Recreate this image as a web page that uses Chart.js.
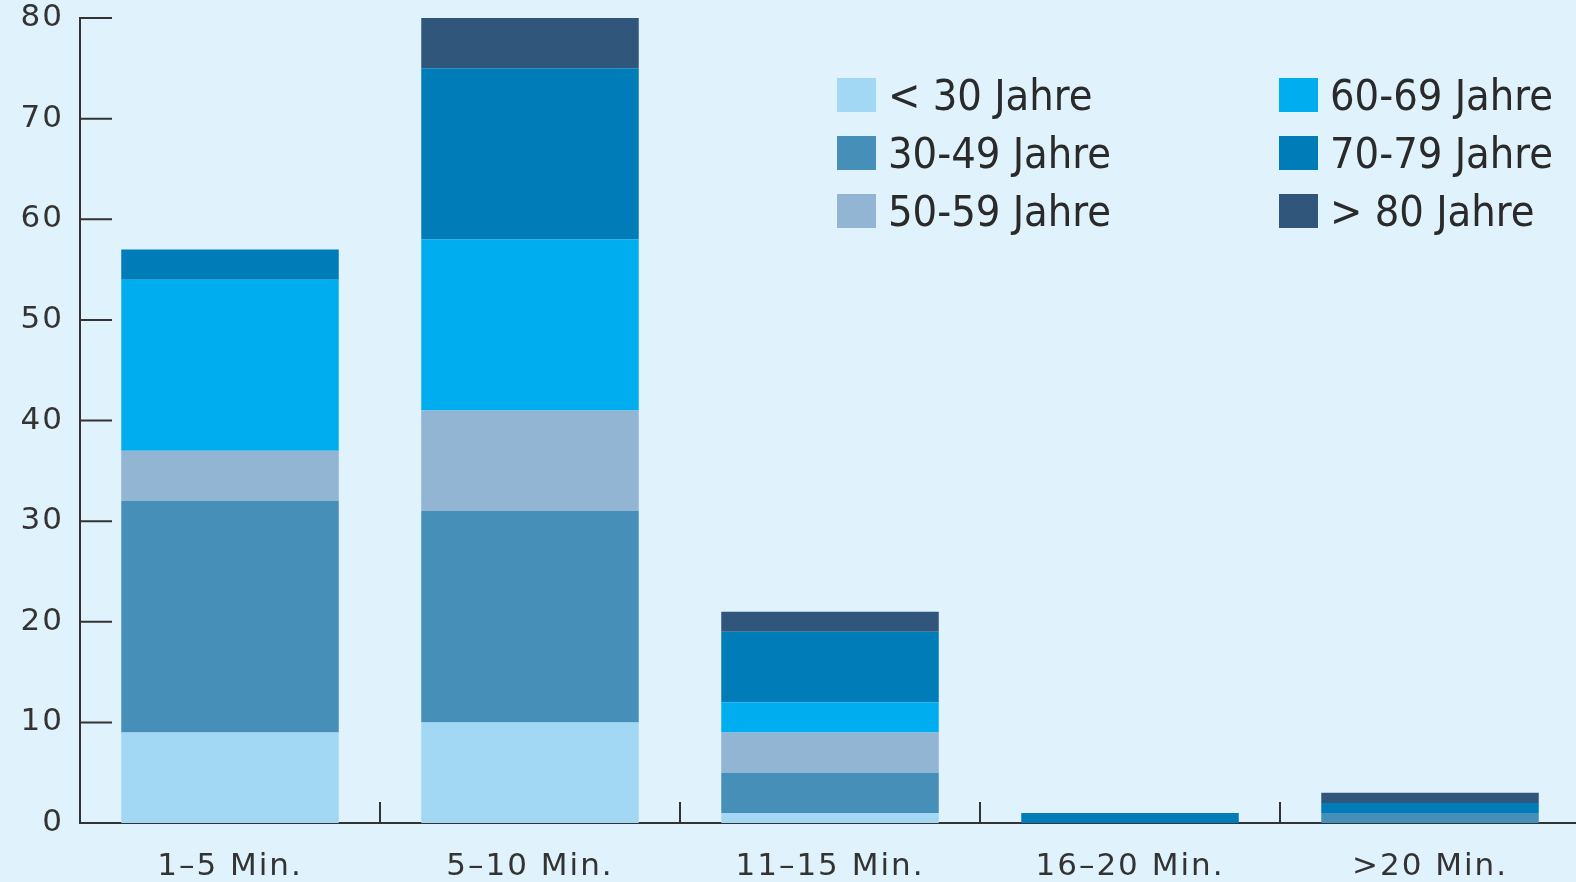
<!DOCTYPE html>
<html>
<head>
<meta charset="utf-8">
<script src="https://cdn.jsdelivr.net/npm/chart.js@4"></script>
<style>
  html, body { margin: 0; padding: 0; background: #e0f3fd; overflow: hidden; }
  #wrap { position: relative; width: 1576px; height: 882px; overflow: hidden; }
  #legend {
    position: absolute; left: 837px; top: 76px;
    display: grid; grid-template-columns: 442px auto; row-gap: 20px;
    font-family: "Liberation Sans Narrow", "DejaVu Sans Condensed", sans-serif;
    font-size: 43px; color: #2a2a2a;
  }
  .item { display: flex; align-items: center; height: 38px; }
  .box { width: 39px; height: 34px; margin-right: 12px; }
</style>
</head>
<body>
<div id="wrap">
  <canvas id="chart" width="1580" height="882"></canvas>
  <div id="legend"></div>
</div>
<script>
const categories = ['1–5 Min.', '5–10 Min.', '11–15 Min.', '16–20 Min.', '>20 Min.'];
const ageGroups = ['< 30 Jahre', '30-49 Jahre', '50-59 Jahre', '60-69 Jahre', '70-79 Jahre', '> 80 Jahre'];
const under30 = [9, 10, 1, 0, 0];
const age30to49 = [23, 21, 4, 0, 1];
const age50to59 = [5, 10, 4, 0, 0];
const age60to69 = [17, 17, 3, 0, 0];
const age70to79 = [3, 17, 7, 1, 1];
const over80 = [0, 5, 2, 0, 1];
const yTicks = [0, 10, 20, 30, 40, 50, 60, 70, 80];

const colors = ['#a3d8f4', '#468fb8', '#91b5d3', '#00aeef', '#007db8', '#30567c'];
const series = [under30, age30to49, age50to59, age60to69, age70to79, over80];

// wider letter spacing for the axis labels
const spacing = {
    id: 'spacing',
    beforeDraw(chart) {
        chart.ctx.letterSpacing = '2px';
    }
};

// inward ticks on both axes
const axisTicks = {
    id: 'axisTicks',
    afterDraw(chart) {
        const ctx = chart.ctx;
        const x = chart.scales.x;
        const y = chart.scales.y;
        ctx.save();
        ctx.strokeStyle = '#333';
        ctx.lineWidth = 2;
        ctx.beginPath();
        yTicks.forEach(v => {
            const py = y.getPixelForValue(v);
            ctx.moveTo(x.left, py);
            ctx.lineTo(x.left + 32, py);
        });
        for (let i = 1; i < categories.length; i++) {
            const px = (x.getPixelForValue(i - 1) + x.getPixelForValue(i)) / 2;
            ctx.moveTo(px, y.bottom);
            ctx.lineTo(px, y.bottom - 21);
        }
        ctx.stroke();
        ctx.restore();
    }
};

const ctx = document.getElementById('chart').getContext('2d');
new Chart(ctx, {
    type: 'bar',
    data: {
        labels: categories,
        datasets: series.map((d, i) => ({
            label: ageGroups[i],
            data: d,
            backgroundColor: colors[i],
            borderWidth: 0,
            barPercentage: 0.725,
            categoryPercentage: 1
        }))
    },
    options: {
        responsive: false,
        animation: false,
        layout: { padding: { top: 18, right: 0, left: 0, bottom: 0 } },
        plugins: {
            legend: { display: false },
            tooltip: { enabled: false }
        },
        scales: {
            x: {
                stacked: true,
                grid: { display: false, drawTicks: false },
                border: { display: true, color: '#333', width: 2 },
                ticks: {
                    color: '#333',
                    padding: 25,
                    font: { family: 'DejaVu Sans', size: 31 }
                },
                afterFit(s) { s.height = 59; s.paddingLeft = 0; s.paddingRight = 0; }
            },
            y: {
                stacked: true,
                min: 0,
                max: 80,
                grid: { display: false, drawTicks: false },
                border: { display: true, color: '#333', width: 2 },
                ticks: {
                    stepSize: 10,
                    color: '#333',
                    padding: 16,
                    font: { family: 'DejaVu Sans', size: 31 }
                },
                afterFit(s) { s.width = 80; s.paddingTop = 0; s.paddingBottom = 0; }
            }
        }
    },
    plugins: [spacing, axisTicks]
});

// legend in two columns, filled top to bottom
const legend = document.getElementById('legend');
const order = [0, 3, 1, 4, 2, 5];
order.forEach(i => {
    const item = document.createElement('div');
    item.className = 'item';
    item.innerHTML = '<span class="box" style="background:' + colors[i] + '"></span><span>' + ageGroups[i] + '</span>';
    legend.appendChild(item);
});
</script>
</body>
</html>
